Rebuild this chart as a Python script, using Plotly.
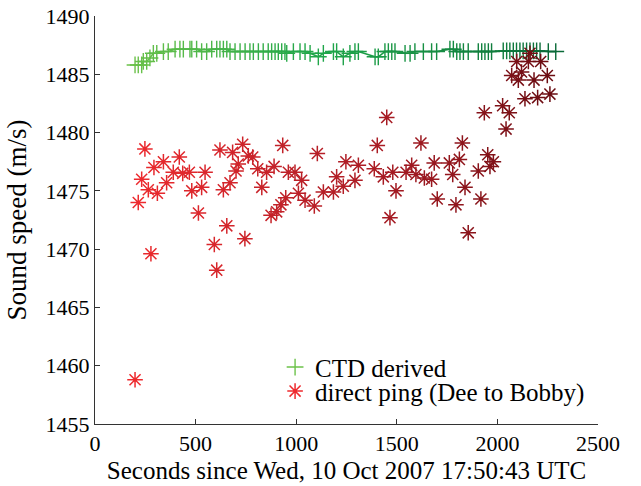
"""Sound speed: CTD derived vs direct ping travel times."""

import plotly.graph_objects as go
from plotly.colors import sample_colorscale

# CTD derived sound speed (seconds since start, m/s)
ctd_t = [199, 215, 232, 240, 257, 273, 290, 307, 340, 364, 398, 422, 439, 472, 481, 505,
         530, 555, 580, 605, 621, 638, 655, 671, 696, 721, 746, 770, 787, 812, 836, 861,
         878, 895, 911, 928, 944, 953, 986, 1019, 1044, 1069, 1110, 1135, 1185, 1201,
         1234, 1267, 1292, 1309, 1392, 1408, 1441, 1458, 1475, 1491, 1541, 1566, 1590,
         1632, 1673, 1698, 1764, 1781, 1798, 1814, 1831, 1855, 1905, 1922, 1938, 1955,
         1971, 2029, 2046, 2062, 2079, 2095, 2112, 2128, 2145, 2162, 2179, 2195, 2212,
         2253, 2290]
ctd_c = [1485.8, 1485.8, 1485.8, 1486.1, 1486.1, 1486.4, 1486.8, 1486.8, 1486.95, 1486.95,
         1487.15, 1487.15, 1487.15, 1487.15, 1487.15, 1487.15, 1486.95, 1486.95, 1487.15,
         1487.15, 1487.15, 1487.15, 1487.15, 1486.95, 1486.95, 1486.95, 1486.95, 1486.95,
         1486.95, 1486.95, 1486.95, 1486.95, 1486.95, 1486.95, 1486.95, 1486.95, 1486.95,
         1486.8, 1486.95, 1486.95, 1486.95, 1486.8, 1486.5, 1486.8, 1486.95, 1486.95,
         1486.5, 1486.8, 1486.95, 1486.95, 1486.5, 1486.5, 1486.95, 1486.95, 1486.95,
         1486.95, 1486.8, 1486.8, 1486.95, 1486.95, 1486.95, 1486.95, 1487.15, 1487.15,
         1486.95, 1486.95, 1486.95, 1486.95, 1486.95, 1486.95, 1486.95, 1486.95, 1486.95,
         1487.0, 1487.0, 1487.0, 1487.0, 1487.0, 1487.0, 1487.0, 1487.0, 1487.0, 1487.0,
         1487.0, 1487.0, 1486.95, 1486.95]

# direct ping, Dee to Bobby
ping_t = [199, 215, 232, 248, 265, 278, 293, 310, 340, 356, 389, 419, 436, 469, 481, 514,
          530, 547, 593, 605, 621, 638, 655, 671, 684, 701, 712, 734, 745, 762, 784, 809,
          829, 853, 875, 890, 903, 924, 933, 948, 961, 994, 1011, 1027, 1044, 1090, 1105,
          1135, 1185, 1201, 1234, 1247, 1292, 1309, 1388, 1403, 1433, 1450, 1466, 1480,
          1496, 1546, 1574, 1595, 1620, 1637, 1673, 1686, 1701, 1761, 1778, 1794, 1811,
          1826, 1839, 1855, 1905, 1918, 1935, 1952, 1963, 1980, 2026, 2043, 2059, 2071,
          2096, 2104, 2120, 2137, 2154, 2162, 2182, 2200, 2215, 2248, 2261]
ping_c = [1458.8, 1474.0, 1476.0, 1478.6, 1475.1, 1469.6, 1477.0, 1474.8, 1477.5, 1475.7,
          1476.6, 1477.9, 1476.5, 1476.6, 1475.0, 1473.1, 1475.3, 1476.6, 1470.4, 1468.2,
          1478.5, 1475.1, 1472.0, 1475.7, 1478.3, 1476.7, 1477.3, 1479.0, 1470.9, 1478.0,
          1477.9, 1476.9, 1475.3, 1476.6, 1472.9, 1477.1, 1473.2, 1473.8, 1478.9, 1474.4,
          1476.6, 1476.6, 1474.8, 1475.9, 1474.2, 1473.7, 1478.2, 1474.9, 1474.9, 1476.2,
          1475.4, 1477.5, 1475.9, 1477.2, 1476.9, 1478.9, 1476.2, 1481.3, 1472.7, 1476.6,
          1475.0, 1476.6, 1477.2, 1476.4, 1479.1, 1476.1, 1476.0, 1477.4, 1474.3, 1477.4,
          1476.4, 1473.8, 1477.7, 1479.1, 1475.3, 1471.4, 1476.7, 1474.3, 1481.7, 1478.1,
          1477.1, 1477.5, 1482.3, 1480.3, 1481.7, 1484.9, 1486.1, 1484.5, 1485.2, 1482.9,
          1486.1, 1486.8, 1484.5, 1483.0, 1486.1, 1484.9, 1483.3]

GREENS = [[0, "#6cc24a"], [0.5, "#1fa64a"], [1, "#0a6a38"]]
REDS = [[0, "#ee2a2e"], [0.5, "#b51f27"], [1, "#6a0c12"]]
FONT = "Liberation Serif"


def fractions(n):
    return [i / (n - 1) for i in range(n)]


fig = go.Figure()

# CTD line, coloured piecewise along time
seg_cols = sample_colorscale(GREENS, fractions(len(ctd_t) - 1))
for i in range(len(ctd_t) - 1):
    fig.add_trace(go.Scatter(
        x=ctd_t[i:i + 2], y=ctd_c[i:i + 2], mode="lines",
        line=dict(color=seg_cols[i], width=1.5),
        showlegend=False, hoverinfo="skip",
    ))

fig.add_trace(go.Scatter(
    x=ctd_t, y=ctd_c, mode="markers", showlegend=False,
    marker=dict(symbol="cross-thin-open", size=12, line=dict(width=1.4),
                color=sample_colorscale(GREENS, fractions(len(ctd_t)))),
))
fig.add_trace(go.Scatter(
    x=ping_t, y=ping_c, mode="markers", showlegend=False,
    marker=dict(symbol="asterisk-open", size=13, line=dict(width=1.5),
                color=sample_colorscale(REDS, fractions(len(ping_t)))),
))

# legend entries, one legend box per row so the row spacing can match
fig.add_trace(go.Scatter(
    x=[None], y=[None], mode="markers", name="CTD derived", legend="legend",
    marker=dict(symbol="cross-thin-open", size=12, color="#6cc24a", line=dict(width=1.4)),
))
fig.add_trace(go.Scatter(
    x=[None], y=[None], mode="markers", name="direct ping (Dee to Bobby)", legend="legend2",
    marker=dict(symbol="asterisk-open", size=13, color="#ee2a2e", line=dict(width=1.5)),
))

axis_common = dict(
    showline=True, linecolor="#333333", linewidth=1, mirror=False,
    ticks="inside", ticklen=5, tickcolor="#333333",
    showgrid=False, zeroline=False, automargin=False,
    tickfont=dict(family=FONT, size=22, color="black"),
)

fig.update_xaxes(range=[0, 2500], dtick=500, **axis_common,
                 title=dict(text="Seconds since Wed, 10 Oct 2007 17:50:43 UTC",
                            font=dict(family=FONT, size=25, color="black"), standoff=6))
fig.update_yaxes(range=[1455, 1490], dtick=5, **axis_common,
                 title=dict(text="Sound speed (m/s)",
                            font=dict(family=FONT, size=27, color="black"), standoff=11))

leg_style = dict(xanchor="left", yanchor="middle", bgcolor="rgba(0,0,0,0)",
                 font=dict(family=FONT, size=25, color="black"))

fig.update_layout(
    width=641, height=486,
    margin=dict(l=95, r=43, t=16, b=62),
    plot_bgcolor="white", paper_bgcolor="white",
    font=dict(family=FONT, color="black"),
    legend=dict(x=0.358, y=0.139, **leg_style),
    legend2=dict(x=0.358, y=0.080, **leg_style),
)

# drop the browser's default 8px body margin so the figure fills the window
fig.write_html("out.html", config={"displayModeBar": False},
               post_script="document.body.style.margin = '0';")
